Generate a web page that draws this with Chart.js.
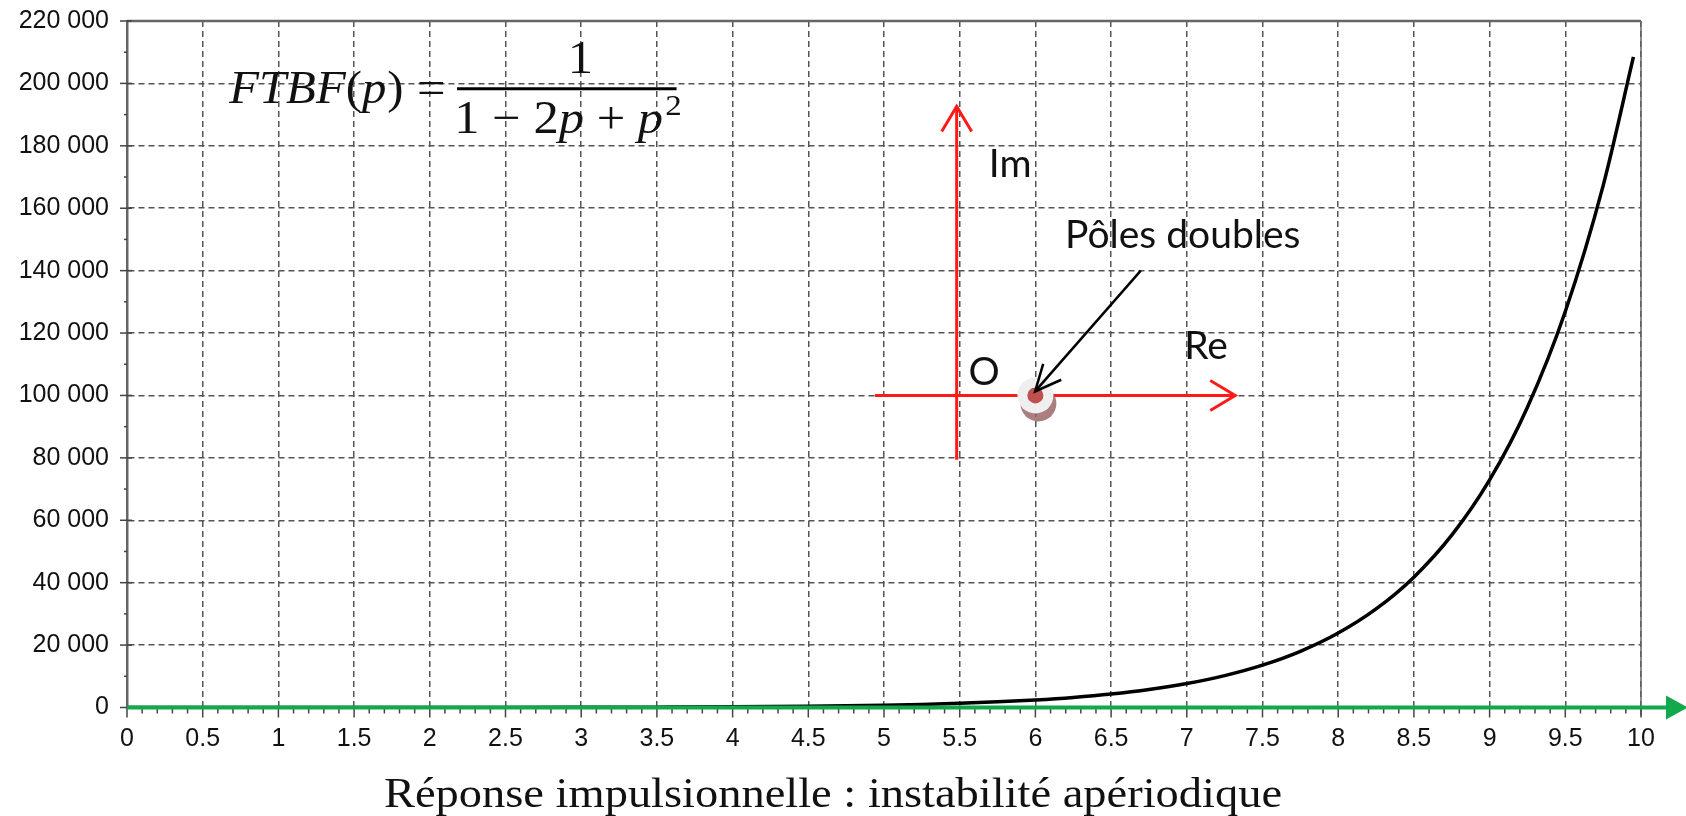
<!DOCTYPE html>
<html>
<head>
<meta charset="utf-8">
<script src="https://cdn.jsdelivr.net/npm/chart.js@4.4.1/dist/chart.umd.min.js"></script>
<style>
  html, body { margin: 0; padding: 0; background: #fff; }
  #wrap { width: 1686px; height: 816px; }
</style>
</head>
<body>
<div id="wrap"><canvas id="grafica" width="1686" height="816"></canvas></div>
<script>
// temps (s) et réponse impulsionnelle
const temps = [0, 0.5, 1, 1.5, 2, 2.5, 3, 3.5, 4, 4.5, 5, 5.25, 5.5, 5.75, 6, 6.25, 6.5, 6.75,
  7, 7.25, 7.5, 7.75, 8, 8.25, 8.5, 8.75, 9, 9.25, 9.5, 9.75, 9.95];
const reponse = [0, 1, 3, 7, 15, 30, 60, 116, 218, 405, 742, 1000, 1346, 1807, 2421, 3238, 4323, 5765,
  7676, 10209, 13560, 17992, 23848, 31578, 41776, 55219, 72928, 96242, 126917, 167254, 208475];
const xTicks = [0, 0.5, 1, 1.5, 2, 2.5, 3, 3.5, 4, 4.5, 5, 5.5, 6, 6.5, 7, 7.5, 8, 8.5, 9, 9.5, 10];
const yMax = 220000;
const titre = "Réponse impulsionnelle : instabilité apériodique";

const grisGrille = '#555';
const rouge = '#ff1a1a';
const vert = '#12a84c';

function fmtMilliers(v) {
  return String(v).replace(/\B(?=(\d{3})+(?!\d))/g, ' ');
}

// tracés de fond : cadre, graduations, axe vert, plan complexe, formule, titre
const decor = {
  id: 'decor',
  afterDatasetsDraw(chart) {
    const ctx = chart.ctx;
    const a = chart.chartArea;
    const sx = chart.scales.x, sy = chart.scales.y;
    const X = v => sx.getPixelForValue(v);
    const Y = v => sy.getPixelForValue(v);
    ctx.save();

    // cadre haut et droite
    ctx.strokeStyle = '#666';
    ctx.lineWidth = 2.5;
    ctx.beginPath();
    ctx.moveTo(a.left, a.top);
    ctx.lineTo(a.right, a.top);
    ctx.stroke();
    ctx.lineWidth = 1.5;
    ctx.beginPath();
    ctx.moveTo(a.right, a.top);
    ctx.lineTo(a.right, a.bottom + 8);
    ctx.stroke();

    // graduations
    ctx.strokeStyle = '#444';
    ctx.lineWidth = 1.5;
    for (let i = 0; i <= 100; i++) {
      const px = X(i / 10);
      const major = i % 5 === 0;
      ctx.beginPath();
      ctx.moveTo(px, a.bottom);
      ctx.lineTo(px, a.bottom + (major ? 10 : 6));
      ctx.stroke();
    }
    for (let v = 0; v <= yMax; v += 10000) {
      const py = Y(v);
      const major = v % 20000 === 0;
      ctx.beginPath();
      ctx.moveTo(a.left - (major ? 7 : 3), py);
      ctx.lineTo(a.left + (major ? 5 : 0), py);
      ctx.stroke();
    }

    // axe des abscisses vert
    const y0 = Y(0);
    ctx.strokeStyle = vert;
    ctx.lineWidth = 4;
    ctx.beginPath();
    ctx.moveTo(a.left, y0);
    ctx.lineTo(chart.width - 14, y0);
    ctx.stroke();
    ctx.fillStyle = vert;
    ctx.beginPath();
    ctx.moveTo(chart.width - 20, y0 - 12);
    ctx.lineTo(chart.width + 2, y0);
    ctx.lineTo(chart.width - 20, y0 + 12);
    ctx.closePath();
    ctx.fill();

    // plan complexe
    const fleche = (x1, y1, x2, y2, col, w, len, half) => {
      ctx.strokeStyle = col;
      ctx.lineWidth = w;
      ctx.beginPath();
      ctx.moveTo(x1, y1);
      ctx.lineTo(x2, y2);
      ctx.stroke();
      const ang = Math.atan2(y2 - y1, x2 - x1);
      const bx = x2 - len * Math.cos(ang), by = y2 - len * Math.sin(ang);
      const nx = -Math.sin(ang) * half, ny = Math.cos(ang) * half;
      ctx.beginPath();
      ctx.moveTo(bx + nx, by + ny);
      ctx.lineTo(x2, y2);
      ctx.lineTo(bx - nx, by - ny);
      ctx.stroke();
    };
    fleche(X(5.48), Y(79400), X(5.48), Y(192600), rouge, 3, 25, 15);
    fleche(X(4.94), Y(100000), X(7.32), Y(100000), rouge, 3, 25, 15);

    // pôle double
    const pxp = X(6), pyp = Y(100000);
    ctx.fillStyle = 'rgba(150,95,95,0.8)';
    ctx.beginPath();
    ctx.arc(pxp + 3, pyp + 8, 18, 0, 2 * Math.PI);
    ctx.fill();
    ctx.fillStyle = '#efefef';
    ctx.beginPath();
    ctx.arc(pxp, pyp, 18, 0, 2 * Math.PI);
    ctx.fill();
    ctx.fillStyle = '#c0504d';
    ctx.beginPath();
    ctx.arc(pxp, pyp, 8, 0, 2 * Math.PI);
    ctx.fill();

    fleche(X(6.696), Y(140000), X(5.998), Y(101300), '#000', 2.5, 26, 12);

    ctx.fillStyle = '#111';
    ctx.font = '39px Lato';
    ctx.textBaseline = 'middle';
    ctx.textAlign = 'center';
    ctx.fillText('Im', X(5.833), Y(174100));
    ctx.fillText('Re', X(7.127), Y(115700));
    ctx.fillText('O', X(5.661), Y(107300));
    ctx.textAlign = 'left';
    ctx.fillText('Pôles doubles', X(6.196), Y(151300));

    // formule FTBF(p), police serif élargie
    const police = p => (p.it ? 'italic ' : '') + (p.size || 46) + 'px "Liberation Serif"';
    const largeur = (parts, ex) => {
      let w = 0;
      for (const p of parts) {
        ctx.font = police(p);
        w += ctx.measureText(p.t).width + (p.gap || 0);
      }
      return w * ex;
    };
    const runs = (parts, x, y, ex) => {
      ctx.save();
      ctx.translate(x, y);
      ctx.scale(ex, 1);
      let cx = 0;
      for (const p of parts) {
        ctx.font = police(p);
        ctx.fillText(p.t, cx, p.dy || 0);
        cx += ctx.measureText(p.t).width + (p.gap || 0);
      }
      ctx.restore();
    };
    ctx.textAlign = 'left';
    ctx.textBaseline = 'alphabetic';
    const ligneY = Y(198300);
    runs([{ t: 'FTBF', it: true }, { t: '(' }, { t: 'p', it: true, gap: 1 }, { t: ')' }],
      X(0.675), ligneY + 14, 1.06);
    const egal = [{ t: '=' }];
    runs(egal, X(2.01) - largeur(egal, 1.1) / 2, ligneY + 14, 1.1);
    ctx.strokeStyle = '#000';
    ctx.lineWidth = 3;
    ctx.beginPath();
    ctx.moveTo(X(2.18), ligneY);
    ctx.lineTo(X(3.63), ligneY);
    ctx.stroke();
    const num = [{ t: '1' }];
    runs(num, X(2.995) - largeur(num, 1.1) / 2, Y(208000) + 15, 1.1);
    const den = [{ t: '1 − 2', gap: 0 }, { t: 'p', it: true }, { t: ' + ' }, { t: 'p', it: true, gap: 2 }, { t: '2', size: 30, dy: -18 }];
    runs(den, X(2.913) - largeur(den, 1.1) / 2, Y(189000) + 15, 1.1);

    // titre, ajusté en largeur
    ctx.font = '42px "Liberation Serif"';
    ctx.textAlign = 'center';
    ctx.textBaseline = 'middle';
    ctx.fillStyle = '#111';
    const w = ctx.measureText(titre).width;
    ctx.translate(833, 796);
    ctx.scale(898 / w, 1);
    ctx.fillText(titre, 0, 0);

    ctx.restore();
  }
};

const config = {
  type: 'line',
  data: {
    datasets: [{
      data: temps.map((t, i) => ({ x: t, y: reponse[i] })),
      borderColor: '#000',
      borderWidth: 3.5,
      pointRadius: 0,
      cubicInterpolationMode: 'monotone',
      fill: false
    }]
  },
  options: {
    responsive: false,
    animation: false,
    devicePixelRatio: 1,
    layout: { padding: { top: 21, right: 45, left: 0, bottom: 0 } },
    plugins: { legend: { display: false }, tooltip: { enabled: false }, title: { display: false } },
    scales: {
      x: {
        type: 'linear',
        min: 0,
        max: 10,
        afterBuildTicks: s => { s.ticks = xTicks.map(v => ({ value: v })); },
        afterFit: s => { s.height = 108.5; },
        grid: { color: grisGrille, lineWidth: 1.5, drawTicks: true, tickLength: 15, tickColor: 'rgba(0,0,0,0)' },
        border: { display: false, dash: [6, 4] },
        ticks: {
          padding: 2,
          color: '#111',
          font: { family: '"Liberation Sans"', size: 25 },
          callback: v => String(v),
          maxRotation: 0,
          autoSkip: false
        }
      },
      y: {
        min: 0,
        max: yMax,
        afterFit: s => { s.width = 127; },
        grid: { color: grisGrille, lineWidth: 1.5, drawTicks: true, tickLength: 16, tickColor: 'rgba(0,0,0,0)' },
        border: { display: true, color: '#666', width: 2.5, dash: [6, 4] },
        ticks: {
          stepSize: 20000,
          padding: 2,
          color: '#111',
          font: { family: '"Liberation Sans"', size: 25 },
          callback: v => fmtMilliers(v)
        }
      }
    }
  },
  plugins: [decor]
};

var context = document.getElementById('grafica').getContext('2d');
window.myChart = new Chart(context, config);
</script>
</body>
</html>
